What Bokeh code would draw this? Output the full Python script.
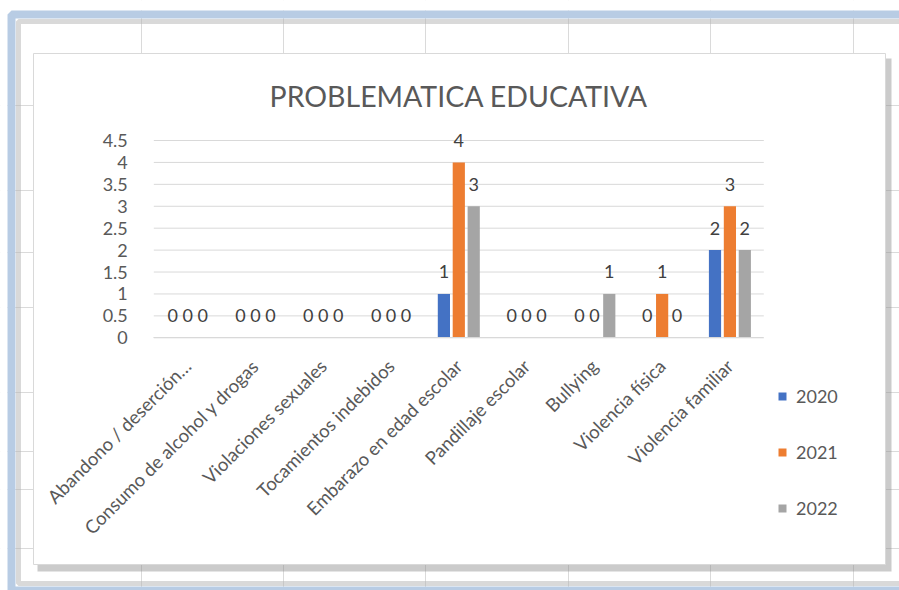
from bokeh.plotting import figure
from bokeh.models import (ColumnDataSource, Range1d, LabelSet, Label, Legend,
                          LegendItem, FixedTicker, BoxAnnotation, Span)
from bokeh.transform import dodge
from bokeh.embed import file_html
from bokeh.resources import INLINE
from bokeh.core.properties import value
import math

categories = ["Abandono / deserción…", "Consumo de alcohol y drogas", "Violaciones sexuales",
              "Tocamientos indebidos", "Embarazo en edad escolar", "Pandillaje escolar",
              "Bullying", "Violencia física", "Violencia familiar"]
series_names = ["2020", "2021", "2022"]
v2020 = [0, 0, 0, 0, 1, 0, 0, 0, 2]
v2021 = [0, 0, 0, 0, 4, 0, 0, 1, 3]
v2022 = [0, 0, 0, 0, 3, 0, 1, 0, 2]
y_ticks = [0, 0.5, 1, 1.5, 2, 2.5, 3, 3.5, 4, 4.5]
y_tick_labels = ["0", "0.5", "1", "1.5", "2", "2.5", "3", "3.5", "4", "4.5"]
title_text = "PROBLEMATICA EDUCATIVA"

colors = ["#4472C4", "#ED7D31", "#A5A5A5"]
FONT = "Lato"
TXT = "#595959"

# ---- geometry (pixels) ----
W, H = 899, 590
ZERO_X = 153.3                      # page x of category-axis start
ZERO_Y = 337.3                      # page y of value 0
PX_X = 610.0 / len(categories)      # pixels per category
PX_Y = 197.3 / 4.5                  # pixels per unit


def px2x(px):
    return (px - ZERO_X) / PX_X


def px2y(py):
    return (ZERO_Y - py) / PX_Y


n = len(categories)
centers = [i + 0.5 for i in range(n)]
src = ColumnDataSource(dict(c=centers, y2020=v2020, y2021=v2021, y2022=v2022,
                            l2020=[str(v) for v in v2020],
                            l2021=[str(v) for v in v2021],
                            l2022=[str(v) for v in v2022]))

p = figure(x_range=Range1d(px2x(0), px2x(W)),
           y_range=Range1d(px2y(H), px2y(0)),
           width=W, height=H, output_backend="svg", toolbar_location=None,
           min_border_left=0, min_border_right=0, min_border_top=0,
           min_border_bottom=0)
p.outline_line_color = None
p.background_fill_color = "white"
p.border_fill_color = "white"
p.xgrid.grid_line_color = None
p.ygrid.grid_line_color = None

# ---- spreadsheet backdrop (decoration) ----
for sx in [141, 283, 425, 568, 710, 853]:
    p.add_layout(Span(location=px2x(sx), dimension="height", line_color="#dadada",
                      line_width=1, level="underlay"))
for sy in [105, 190, 252, 307, 392, 451, 489, 548]:
    p.add_layout(Span(location=px2y(sy), dimension="width", line_color="#dadada",
                      line_width=1, level="underlay"))
# blank page outside the sheet window
p.add_layout(BoxAnnotation(left=px2x(-5), right=px2x(910), top=px2y(-5), bottom=px2y(10),
                           fill_color="white", fill_alpha=1, line_color=None, level="underlay"))
p.add_layout(BoxAnnotation(left=px2x(-5), right=px2x(7), top=px2y(-5), bottom=px2y(600),
                           fill_color="white", fill_alpha=1, line_color=None, level="underlay"))
# inner shade of the sheet window and its blue frame
p.add_layout(BoxAnnotation(left=px2x(18), right=px2x(910), top=px2y(21), bottom=px2y(583),
                           fill_alpha=0, line_color="#b4b4b4", line_alpha=0.5,
                           line_width=5, level="underlay"))
p.add_layout(BoxAnnotation(left=px2x(11), right=px2x(910), top=px2y(14), bottom=px2y(590),
                           fill_alpha=0, line_color="#b8cce4", line_alpha=1, line_width=8,
                           level="underlay"))
# chart drop shadow and chart area
p.add_layout(BoxAnnotation(left=px2x(37), right=px2x(891), top=px2y(58), bottom=px2y(571),
                           fill_color="#8c8c8c", fill_alpha=0.45, line_color=None,
                           level="underlay"))
p.add_layout(BoxAnnotation(left=px2x(33), right=px2x(885), top=px2y(53), bottom=px2y(564),
                           fill_color="white", fill_alpha=1, line_color="#d9d9d9",
                           line_alpha=1, line_width=1, level="underlay"))

# horizontal gridlines over the category span
p.segment(x0=0, x1=n, y0=y_ticks, y1=y_ticks, line_color="#d9d9d9", line_width=1)

offsets = [-0.22, 0.0, 0.22]
renderers = []
for name, off, col in zip(series_names, offsets, colors):
    r = p.vbar(x=dodge("c", off), top="y" + name, width=0.18,
               source=src, fill_color=col, line_color=None)
    renderers.append(r)
    labels = LabelSet(x=dodge("c", off), y="y" + name, text="l" + name,
                      source=src, text_align="center", text_baseline="middle",
                      y_offset=22, text_font=value(FONT), text_font_size=value("18px"),
                      text_color="#404040")
    p.add_layout(labels)

# y axis sitting on category start
p.yaxis.fixed_location = 0
p.yaxis.ticker = FixedTicker(ticks=y_ticks)
p.yaxis.major_label_overrides = {t: l for t, l in zip(y_ticks, y_tick_labels)}
p.yaxis.axis_line_color = None
p.yaxis.major_tick_line_color = None
p.yaxis.minor_tick_line_color = None
p.yaxis.major_label_standoff = 20
p.yaxis.major_label_text_font = FONT
p.yaxis.major_label_text_font_size = "18px"
p.yaxis.major_label_text_color = TXT

# x axis sitting on value 0
p.xaxis.fixed_location = 0
p.xaxis.bounds = (0, n)
p.xaxis.ticker = FixedTicker(ticks=centers)
p.xaxis.major_label_overrides = {c: name for c, name in zip(centers, categories)}
p.xaxis.axis_line_color = "#d9d9d9"
p.xaxis.major_tick_line_color = None
p.xaxis.minor_tick_line_color = None
p.xaxis.major_label_orientation = math.pi / 4
p.xaxis.major_label_standoff = 19
p.xaxis.major_label_text_font = FONT
p.xaxis.major_label_text_font_size = "18.5px"
p.xaxis.major_label_text_color = TXT

# title
p.add_layout(Label(x=n / 2, y=px2y(95), text=title_text, text_align="center",
                   text_baseline="middle", text_font=FONT,
                   text_font_size="28.5px", text_color=TXT))

legend = Legend(items=[LegendItem(label=s, renderers=[r]) for s, r in zip(series_names, renderers)],
                location=(777, H - 519), orientation="vertical",
                glyph_width=10, glyph_height=10, label_height=10, spacing=34,
                label_standoff=9, padding=0, margin=0,
                label_text_font=FONT, label_text_font_size="18px", label_text_color=TXT,
                border_line_color=None, background_fill_alpha=0)
p.add_layout(legend)

open("out.html", "w").write(file_html(p, INLINE))
